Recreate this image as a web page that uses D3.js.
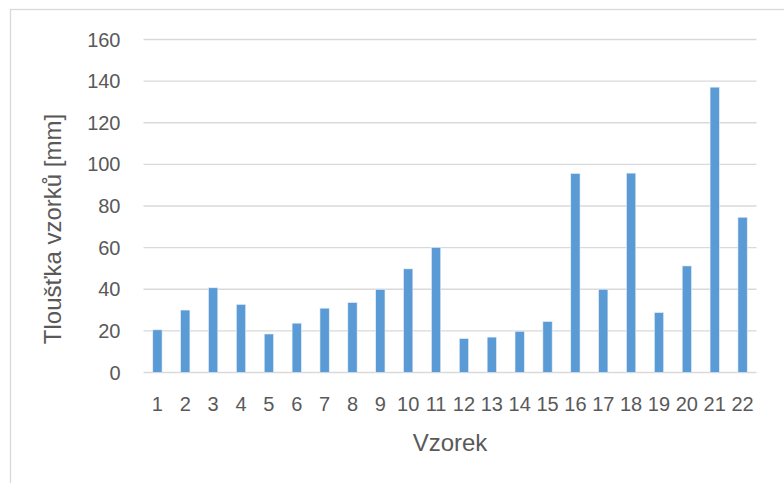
<!DOCTYPE html>
<html>
<head>
<meta charset="utf-8">
<script src="https://cdnjs.cloudflare.com/ajax/libs/d3/7.8.5/d3.min.js"></script>
<style>
  body { margin: 0; background: #fff; }
  svg text { font-family: 'Liberation Sans', Arial, sans-serif; fill: #595959; }
</style>
</head>
<body>
<div class="d3-wrapper"></div>
<script>
const samples = d3.range(1, 23).map(String);
const thickness = [20.5, 30, 40.7, 32.7, 18.5, 23.7, 30.9, 33.6, 39.9, 49.8, 60.1,
  16.3, 17, 19.8, 24.5, 95.6, 40, 95.8, 28.8, 51.2, 137.1, 74.6];
const yTicks = [0, 20, 40, 60, 80, 100, 120, 140, 160];

const OUTER_WIDTH = 784, OUTER_HEIGHT = 483;
const MARGIN = { top: 39.5, right: 27.5, bottom: 110.5, left: 143.5 };
const INNER_WIDTH = OUTER_WIDTH - MARGIN.left - MARGIN.right,
  INNER_HEIGHT = OUTER_HEIGHT - MARGIN.top - MARGIN.bottom;

const xScale = d3.scaleBand().domain(samples).range([0, INNER_WIDTH]).paddingInner(0.667).paddingOuter(0.333);
const yScale = d3.scaleLinear().domain([0, 160]).range([INNER_HEIGHT, 0]);

const svg = d3.select('.d3-wrapper').append('svg')
  .attr('width', OUTER_WIDTH)
  .attr('height', OUTER_HEIGHT);

// chart area border (runs past the right and bottom edge)
svg.append('rect')
  .attr('x', 10.5).attr('y', 9.5)
  .attr('width', 800).attr('height', 500)
  .attr('fill', 'none')
  .attr('stroke', '#d9d9d9')
  .attr('stroke-width', 1.3);

const g = svg.append('g')
  .attr('transform', `translate(${MARGIN.left}, ${MARGIN.top})`);

g.append('g')
  .selectAll('line')
  .data(yTicks)
  .enter().append('line')
  .attr('x1', 0).attr('x2', INNER_WIDTH)
  .attr('y1', d => yScale(d)).attr('y2', d => yScale(d))
  .attr('stroke', '#d9d9d9')
  .attr('stroke-width', 1.3);

g.append('g')
  .selectAll('text')
  .data(yTicks)
  .enter().append('text')
  .attr('x', -23)
  .attr('y', d => yScale(d))
  .attr('dy', '0.35em')
  .attr('text-anchor', 'end')
  .style('font-size', '20px')
  .text(d => d);

g.selectAll('.bar')
  .data(thickness)
  .enter().append('rect')
  .attr('class', 'bar')
  .attr('x', (d, i) => xScale(samples[i]))
  .attr('width', xScale.bandwidth())
  .attr('y', d => yScale(d))
  .attr('height', d => yScale(0) - yScale(d))
  .attr('fill', '#5b9bd5')
  .attr('stroke', '#e6eef8')
  .attr('stroke-width', 0.6);

g.append('g')
  .selectAll('text')
  .data(samples)
  .enter().append('text')
  .attr('x', d => xScale(d) + xScale.bandwidth() / 2)
  .attr('y', INNER_HEIGHT + 31)
  .attr('dy', '0.35em')
  .attr('text-anchor', 'middle')
  .style('font-size', '20px')
  .text(d => d);

svg.append('text')
  .attr('x', MARGIN.left + INNER_WIDTH / 2)
  .attr('y', 443)
  .attr('dy', '0.35em')
  .attr('text-anchor', 'middle')
  .style('font-size', '24px')
  .text('Vzorek');

svg.append('text')
  .attr('transform', 'translate(53, 229) rotate(-90)')
  .attr('dy', '0.35em')
  .attr('text-anchor', 'middle')
  .style('font-size', '24px')
  .text('Tloušťka vzorků [mm]');
</script>
</body>
</html>
